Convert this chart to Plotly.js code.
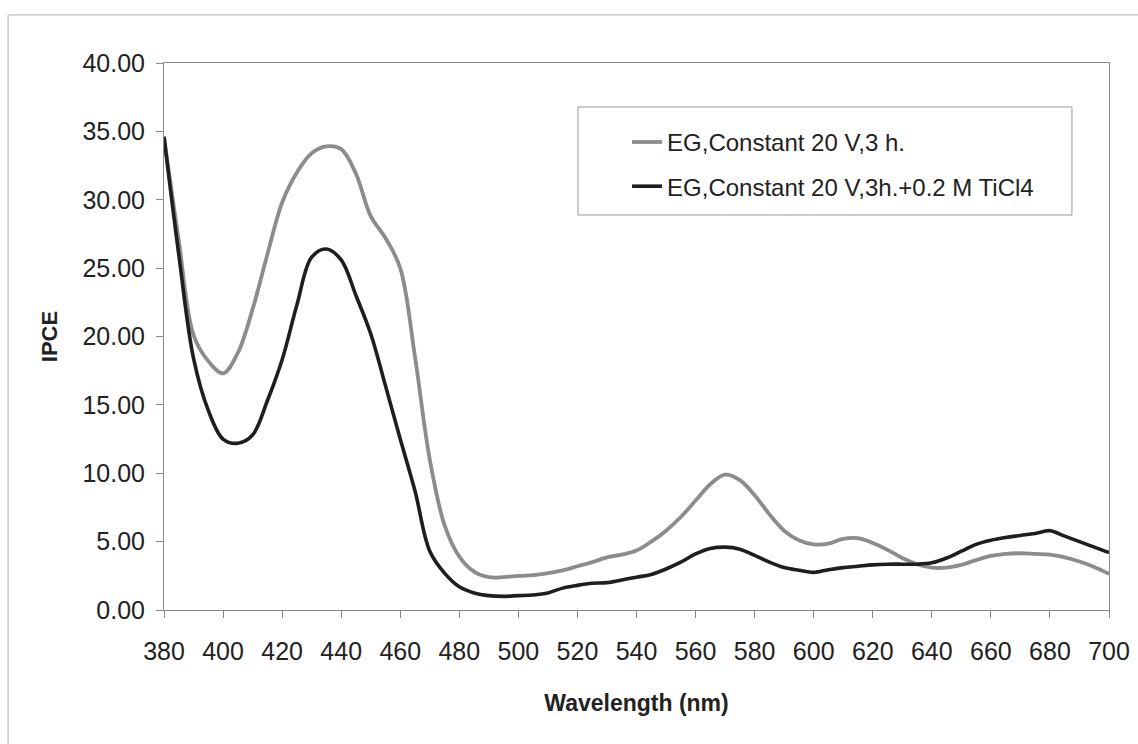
<!DOCTYPE html>
<html>
<head>
<meta charset="utf-8">
<script src="https://cdn.plot.ly/plotly-3.0.1.min.js"></script>
<style>
html,body{margin:0;padding:0;background:#fff;}
#chart{width:1138px;height:744px;}
</style>
</head>
<body>
<div id="chart"></div>
<script>
// Wavelength categories (nm)
var wavelength = [380,385,390,395,400,405,410,415,420,425,430,435,440,445,450,455,460,465,470,475,
  480,485,490,495,500,505,510,515,520,525,530,535,540,545,550,555,560,565,570,575,
  580,585,590,595,600,605,610,615,620,625,630,635,640,645,650,655,660,665,670,675,
  680,685,690,695,700];

// IPCE, EG, Constant 20 V, 3 h.
var ipceEG = [34.6,27.0,20.1,18.2,17.3,18.8,22.0,26.0,29.8,32.0,33.4,33.9,33.7,31.9,28.8,27.2,25.0,18.5,11.0,6.2,
  3.9,2.8,2.4,2.4,2.5,2.55,2.7,2.9,3.2,3.5,3.85,4.05,4.35,5.0,5.8,6.8,8.0,9.2,9.9,9.5,
  8.4,7.0,5.8,5.1,4.8,4.85,5.2,5.25,4.9,4.4,3.8,3.35,3.1,3.1,3.3,3.65,3.95,4.1,4.15,4.1,
  4.05,3.85,3.55,3.15,2.65];

// IPCE, EG, Constant 20 V, 3h. + 0.2 M TiCl4
var ipceTiCl4 = [34.6,26.0,18.4,14.6,12.5,12.2,12.8,15.3,18.3,22.3,25.8,26.4,25.6,23.0,20.2,16.4,12.5,8.7,4.3,2.7,
  1.7,1.25,1.05,1.0,1.05,1.1,1.25,1.6,1.8,1.95,2.0,2.2,2.4,2.6,3.0,3.5,4.1,4.5,4.6,4.45,
  4.0,3.5,3.1,2.9,2.75,2.95,3.1,3.2,3.3,3.35,3.35,3.35,3.45,3.8,4.3,4.8,5.1,5.3,5.45,5.6,
  5.8,5.4,5.0,4.6,4.2];

var seriesNames = ["EG,Constant 20 V,3 h.", "EG,Constant 20 V,3h.+0.2 M TiCl4"];

var FONT = "Liberation Sans, Arial, Helvetica, sans-serif";

var traces = [
  {x: wavelength, y: ipceEG, type: "scatter", mode: "lines", name: seriesNames[0],
   legendgroup: "a", line: {color: "#8c8c8c", width: 3.8, shape: "spline", smoothing: 1}},
  {x: wavelength, y: ipceTiCl4, type: "scatter", mode: "lines", name: seriesNames[1],
   legendgroup: "b", line: {color: "#1e1e1e", width: 3.6, shape: "spline", smoothing: 1}}
];

var layout = {
  width: 1138, height: 744,
  margin: {l: 164, r: 29, t: 63, b: 134},
  paper_bgcolor: "#ffffff", plot_bgcolor: "#ffffff",
  font: {family: FONT, color: "#222222"},
  showlegend: true,
  legend: {x: 0.49, y: 0.896, xanchor: "left", yanchor: "top",
    bgcolor: "rgba(0,0,0,0)", borderwidth: 0, tracegroupgap: 10,
    font: {family: FONT, size: 24, color: "#222222"}},
  xaxis: {
    range: [380, 700], tick0: 380, dtick: 20,
    ticks: "outside", ticklen: 7, tickcolor: "#888888", tickwidth: 1,
    showline: true, linecolor: "#8a8a8a", linewidth: 1, mirror: true,
    showgrid: false, zeroline: false,
    tickfont: {family: FONT, size: 25, color: "#222222"},
    ticklabelstandoff: 12,
    title: {text: "Wavelength (nm)", font: {family: FONT, size: 23, weight: "bold", color: "#222222"}, standoff: 30}
  },
  yaxis: {
    range: [0, 40], tick0: 0, dtick: 5, tickformat: ".2f",
    ticks: "outside", ticklen: 7, tickcolor: "#888888", tickwidth: 1,
    showline: true, linecolor: "#8a8a8a", linewidth: 1, mirror: true,
    showgrid: false, zeroline: false,
    tickfont: {family: FONT, size: 25, color: "#222222"},
    ticklabelstandoff: 6,
    title: {text: "IPCE", font: {family: FONT, size: 22, weight: "bold", color: "#222222"}, standoff: 18}
  },
  shapes: [
    // legend box
    {type: "rect", xref: "paper", yref: "paper", x0: 0.4381, x1: 0.9608, y0: 0.7221, y1: 0.9196,
     line: {color: "#999999", width: 1}, fillcolor: "rgba(0,0,0,0)", layer: "above"},
    // outer chart border (top and left)
    {type: "line", xref: "paper", yref: "paper", x0: -0.165, x1: 1.04, y0: 1.0878, y1: 1.0878,
     line: {color: "#b0b0b0", width: 1}},
    {type: "line", xref: "paper", yref: "paper", x0: -0.165, x1: -0.165, y0: 1.0878, y1: -0.25,
     line: {color: "#b0b0b0", width: 1}}
  ]
};

Plotly.newPlot("chart", traces, layout, {staticPlot: true, displayModeBar: false});
</script>
</body>
</html>
